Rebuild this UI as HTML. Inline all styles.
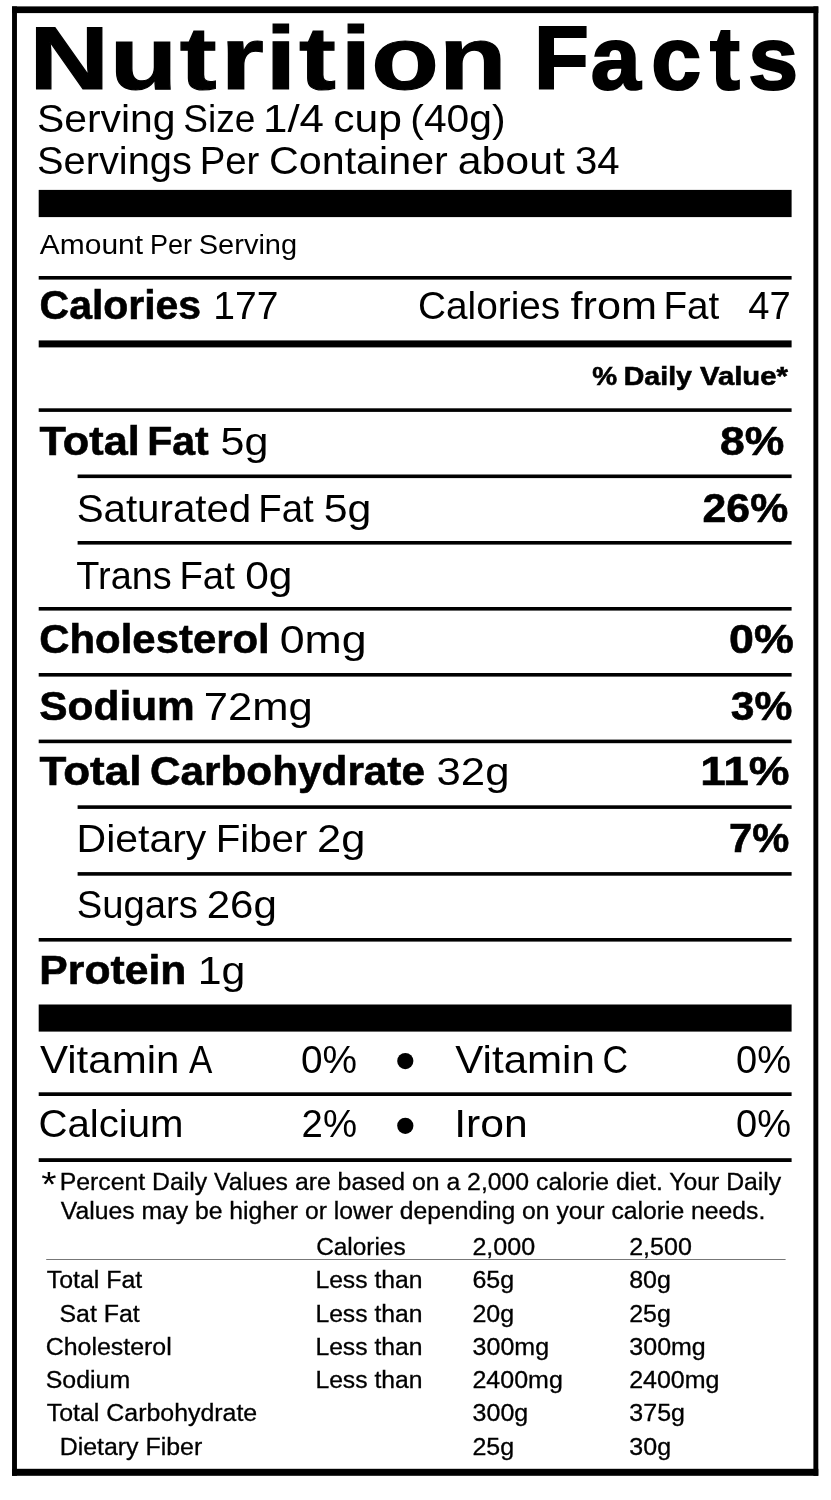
<!DOCTYPE html>
<html lang="en"><head><meta charset="utf-8"><title>Nutrition Facts</title>
<style>
html,body{margin:0;padding:0;background:#fff}
body{width:831px;height:1500px;position:relative;overflow:hidden;font-family:"Liberation Sans",Arial,sans-serif;color:#000}
.page{position:absolute;left:0;top:0;width:831px;height:1500px;background:#fff;will-change:transform}
.g{position:absolute;left:0;top:0}
.ti{font-family:"Liberation Sans",Arial,sans-serif;font-weight:bold;font-size:89px;fill:#000}
section{display:contents}
.t{position:absolute;white-space:pre;line-height:1;transform-origin:0 0;font-weight:normal}
.f{-webkit-text-stroke:0.3px #000}
.b{font-weight:bold;-webkit-text-stroke:0.6px #000}
</style></head><body><div class="page">
<svg class="g" width="831" height="1500" viewBox="0 0 831 1500" aria-hidden="true">
<rect x="12.05" y="6.40" width="806.25" height="6.70"/>
<rect x="12.05" y="1468.80" width="806.25" height="7.00"/>
<rect x="12.05" y="6.40" width="4.90" height="1469.40"/>
<rect x="813.40" y="6.40" width="4.90" height="1469.40"/>
<rect x="38.70" y="189.90" width="752.90" height="27.20"/>
<rect x="38.70" y="276.00" width="752.90" height="3.60"/>
<rect x="38.70" y="340.40" width="752.90" height="7.00"/>
<rect x="38.70" y="408.30" width="752.90" height="3.60"/>
<rect x="77.60" y="474.50" width="714.00" height="3.60"/>
<rect x="77.60" y="541.00" width="714.00" height="3.60"/>
<rect x="38.70" y="607.00" width="752.90" height="3.60"/>
<rect x="38.70" y="673.00" width="752.90" height="3.60"/>
<rect x="38.70" y="739.60" width="752.90" height="3.60"/>
<rect x="77.60" y="805.30" width="714.00" height="3.60"/>
<rect x="77.60" y="872.10" width="714.00" height="3.60"/>
<rect x="38.70" y="938.00" width="752.90" height="3.60"/>
<rect x="38.70" y="1004.50" width="752.90" height="27.10"/>
<rect x="38.70" y="1092.30" width="752.90" height="3.70"/>
<rect x="38.70" y="1158.20" width="752.90" height="3.80"/>
<rect x="46.2" y="1259" width="739.4" height="1" fill="#777"/>
<circle cx="405.3" cy="1061.1" r="8.1"/>
<circle cx="405.3" cy="1125.8" r="8.1"/>
</svg>
<svg class="g" width="831" height="100" viewBox="0 0 831 100" role="heading" aria-level="1">
<text class="ti" stroke="#000" stroke-width="1.13" transform="scale(1.2440,1)" y="89.4" x="23.59 88.28 144.48 177.48 213.47 240.26 273.76 298.54 352.97">Nutrition</text>
<text class="ti" stroke="#000" stroke-width="2.18" transform="scale(1.0073,1)" y="89.4" x="530.19 586.37 646.43 704.84 742.75">Facts</text>
</svg>
<section class="header">
<div class="t" style="left:36px;top:100px;font-size:38.25px;transform:translateX(0.95px) scaleX(1.0681)">Serving</div>
<div class="t" style="left:183px;top:100px;font-size:38.25px;transform:translateX(0.29px) scaleX(0.9699)">Size</div>
<div class="t" style="left:263px;top:100px;font-size:38.25px;transform:translateX(0.02px) scaleX(1.1465)">1/4</div>
<div class="t" style="left:333px;top:100px;font-size:38.25px;transform:translateX(0.23px) scaleX(1.1133)">cup</div>
<div class="t" style="left:410px;top:100px;font-size:38.25px;transform:translateX(0.32px) scaleX(1.0653)">(40g)</div>
<div class="t" style="left:37px;top:142px;font-size:38.25px;transform:translateX(0.01px) scaleX(1.0402)">Servings</div>
<div class="t" style="left:199px;top:142px;font-size:38.25px;transform:translateX(0.66px) scaleX(1.0032)">Per</div>
<div class="t" style="left:269px;top:142px;font-size:38.25px;transform:translateX(0.02px) scaleX(1.0779)">Container</div>
<div class="t" style="left:457px;top:142px;font-size:38.25px;transform:translateX(0.66px) scaleX(1.1215)">about</div>
<div class="t" style="left:575px;top:142px;font-size:38.25px;transform:translateX(0.04px) scaleX(1.0498)">34</div>
</section>
<section class="calories">
<div class="t" style="left:39px;top:231px;font-size:27.5px;transform:translateX(0.80px) scaleX(1.0895)">Amount</div>
<div class="t" style="left:150px;top:231px;font-size:27.5px;transform:translateX(0.02px) scaleX(0.9819)">Per</div>
<div class="t" style="left:198px;top:231px;font-size:27.5px;transform:translateX(0.77px) scaleX(1.0542)">Serving</div>
<div class="t b" style="left:39px;top:285px;font-size:40.75px;transform:translateX(0.60px) scaleX(1.0044)">Calories</div>
<div class="t" style="left:213px;top:287px;font-size:38.75px;transform:translateX(0.32px) scaleX(1.0075)">177</div>
<div class="t" style="left:418px;top:287px;font-size:38.75px;transform:translateX(0.01px) scaleX(1.0006)">Calories</div>
<div class="t" style="left:570px;top:287px;font-size:38.75px;transform:translateX(0.60px) scaleX(1.1158)">from</div>
<div class="t" style="left:663px;top:287px;font-size:38.75px;transform:translateX(0.42px) scaleX(0.9978)">Fat</div>
<div class="t" style="left:748px;top:287px;font-size:38.75px;transform:translateX(0.32px) scaleX(0.9846)">47</div>
<div class="t b" style="left:592px;top:363px;font-size:26.5px;transform:translateX(0.20px) scaleX(1.0550)">%</div>
<div class="t b" style="left:623px;top:363px;font-size:26.5px;transform:translateX(0.71px) scaleX(1.0771)">Daily</div>
<div class="t b" style="left:700px;top:363px;font-size:26.5px;transform:translateX(0.06px) scaleX(1.1042)">Value*</div>
</section>
<section class="nutrients">
<div class="t b" style="left:39px;top:421px;font-size:40.75px;transform:translateX(0.60px) scaleX(1.0613)">Total</div>
<div class="t b" style="left:147px;top:421px;font-size:40.75px;transform:translateX(0.16px) scaleX(1.0056)">Fat</div>
<div class="t" style="left:220px;top:423px;font-size:38.75px;transform:translateX(0.48px) scaleX(1.1116)">5g</div>
<div class="t b" style="left:719px;top:421px;font-size:40.75px;transform:translateX(0.91px) scaleX(1.0919)">8%</div>
<div class="t" style="left:76px;top:490px;font-size:38.75px;transform:translateX(0.68px) scaleX(1.0389)">Saturated</div>
<div class="t" style="left:258px;top:490px;font-size:38.75px;transform:translateX(0.20px) scaleX(0.9908)">Fat</div>
<div class="t" style="left:323px;top:490px;font-size:38.75px;transform:translateX(0.71px) scaleX(1.1059)">5g</div>
<div class="t b" style="left:702px;top:488px;font-size:40.75px;transform:translateX(0.55px) scaleX(1.0500)">26%</div>
<div class="t" style="left:76px;top:557px;font-size:38.75px;transform:translateX(0.34px) scaleX(0.9777)">Trans</div>
<div class="t" style="left:179px;top:557px;font-size:38.75px;transform:translateX(0.43px) scaleX(0.9888)">Fat</div>
<div class="t" style="left:245px;top:557px;font-size:38.75px;transform:translateX(0.13px) scaleX(1.0956)">0g</div>
<div class="t b" style="left:39px;top:619px;font-size:40.75px;transform:translateX(0.27px) scaleX(1.0281)">Cholesterol</div>
<div class="t" style="left:279px;top:621px;font-size:38.75px;transform:translateX(0.73px) scaleX(1.1544)">0mg</div>
<div class="t b" style="left:729px;top:619px;font-size:40.75px;transform:translateX(0.00px) scaleX(1.0989)">0%</div>
<div class="t b" style="left:39px;top:686px;font-size:40.75px;transform:translateX(0.32px) scaleX(1.0403)">Sodium</div>
<div class="t" style="left:203px;top:688px;font-size:38.75px;transform:translateX(0.77px) scaleX(1.1242)">72mg</div>
<div class="t b" style="left:730px;top:686px;font-size:40.75px;transform:translateX(0.68px) scaleX(1.0459)">3%</div>
<div class="t b" style="left:39px;top:751px;font-size:40.75px;transform:translateX(0.60px) scaleX(1.0794)">Total</div>
<div class="t b" style="left:150px;top:751px;font-size:40.75px;transform:translateX(0.00px) scaleX(1.0379)">Carbohydrate</div>
<div class="t" style="left:436px;top:753px;font-size:38.75px;transform:translateX(0.51px) scaleX(1.1287)">32g</div>
<div class="t b" style="left:700px;top:751px;font-size:40.75px;transform:translateX(0.25px) scaleX(1.1250)">11%</div>
<div class="t" style="left:76px;top:820px;font-size:38.75px;transform:translateX(0.53px) scaleX(1.0576)">Dietary</div>
<div class="t" style="left:215px;top:820px;font-size:38.75px;transform:translateX(0.65px) scaleX(1.0393)">Fiber</div>
<div class="t" style="left:317px;top:820px;font-size:38.75px;transform:translateX(0.09px) scaleX(1.1213)">2g</div>
<div class="t b" style="left:728px;top:818px;font-size:40.75px;transform:translateX(0.98px) scaleX(1.0236)">7%</div>
<div class="t" style="left:76px;top:886px;font-size:38.75px;transform:translateX(0.78px) scaleX(0.9870)">Sugars</div>
<div class="t" style="left:206px;top:886px;font-size:38.75px;transform:translateX(0.63px) scaleX(1.0863)">26g</div>
<div class="t b" style="left:39px;top:950px;font-size:40.75px;transform:translateX(0.31px) scaleX(1.0473)">Protein</div>
<div class="t" style="left:197px;top:952px;font-size:38.75px;transform:translateX(0.74px) scaleX(1.1053)">1g</div>
</section>
<section class="vitamins">
<div class="t" style="left:39px;top:1041px;font-size:38.75px;transform:translateX(0.90px) scaleX(1.0861)">Vitamin</div>
<div class="t" style="left:189px;top:1041px;font-size:38.75px;transform:translateX(0.01px) scaleX(0.9036)">A</div>
<div class="t" style="left:300px;top:1041px;font-size:38.75px;transform:translateX(0.97px) scaleX(1.0006)">0%</div>
<div class="t" style="left:455px;top:1041px;font-size:38.75px;transform:translateX(0.30px) scaleX(1.0860)">Vitamin</div>
<div class="t" style="left:602px;top:1041px;font-size:38.75px;transform:translateX(0.58px) scaleX(0.9130)">C</div>
<div class="t" style="left:735px;top:1041px;font-size:38.75px;transform:translateX(0.99px) scaleX(0.9819)">0%</div>
<div class="t" style="left:38px;top:1105px;font-size:38.75px;transform:translateX(0.44px) scaleX(1.0371)">Calcium</div>
<div class="t" style="left:301px;top:1105px;font-size:38.75px;transform:translateX(0.57px) scaleX(0.9897)">2%</div>
<div class="t" style="left:454px;top:1105px;font-size:38.75px;transform:translateX(0.25px) scaleX(1.1007)">Iron</div>
<div class="t" style="left:735px;top:1105px;font-size:38.75px;transform:translateX(0.99px) scaleX(0.9819)">0%</div>
</section>
<section class="footnote">
<div class="t" style="left:41px;top:1166px;font-size:35px;transform:translateX(0.3px) scaleX(1.12)">*</div>
<div class="t f" style="left:59px;top:1171px;font-size:23.5px;transform:translateX(0.80px) scaleX(1.0546)">Percent Daily Values are based on a 2,000 calorie diet. Your Daily</div>
<div class="t f" style="left:60px;top:1200px;font-size:23.5px;transform:translateX(0.82px) scaleX(1.0519)">Values may be higher or lower depending on your calorie needs.</div>
<div class="t f" style="left:316px;top:1236px;font-size:23.5px;transform:translateX(0.16px) scaleX(1.0376)">Calories</div>
<div class="t f" style="left:472px;top:1236px;font-size:23.5px;transform:translateX(0.43px) scaleX(1.0662)">2,000</div>
<div class="t f" style="left:629px;top:1236px;font-size:23.5px;transform:translateX(0.13px) scaleX(1.0662)">2,500</div>
<div class="t f" style="left:46px;top:1269px;font-size:23.5px;transform:translateX(0.80px) scaleX(1.0596)">Total Fat</div>
<div class="t f" style="left:315px;top:1269px;font-size:23.5px;transform:translateX(0.40px) scaleX(1.0511)">Less than</div>
<div class="t f" style="left:472px;top:1269px;font-size:23.5px;transform:translateX(0.44px) scaleX(1.0638)">65g</div>
<div class="t f" style="left:629px;top:1269px;font-size:23.5px;transform:translateX(0.21px) scaleX(1.0638)">80g</div>
<div class="t f" style="left:59px;top:1303px;font-size:23.5px;transform:translateX(0.44px) scaleX(1.0596)">Sat Fat</div>
<div class="t f" style="left:315px;top:1303px;font-size:23.5px;transform:translateX(0.40px) scaleX(1.0511)">Less than</div>
<div class="t f" style="left:472px;top:1303px;font-size:23.5px;transform:translateX(0.44px) scaleX(1.0638)">20g</div>
<div class="t f" style="left:629px;top:1303px;font-size:23.5px;transform:translateX(0.14px) scaleX(1.0638)">25g</div>
<div class="t f" style="left:45px;top:1336px;font-size:23.5px;transform:translateX(0.74px) scaleX(1.0596)">Cholesterol</div>
<div class="t f" style="left:315px;top:1336px;font-size:23.5px;transform:translateX(0.40px) scaleX(1.0511)">Less than</div>
<div class="t f" style="left:472px;top:1336px;font-size:23.5px;transform:translateX(0.62px) scaleX(1.0638)">300mg</div>
<div class="t f" style="left:629px;top:1336px;font-size:23.5px;transform:translateX(0.32px) scaleX(1.0638)">300mg</div>
<div class="t f" style="left:45px;top:1369px;font-size:23.5px;transform:translateX(0.74px) scaleX(1.0596)">Sodium</div>
<div class="t f" style="left:315px;top:1369px;font-size:23.5px;transform:translateX(0.40px) scaleX(1.0511)">Less than</div>
<div class="t f" style="left:472px;top:1369px;font-size:23.5px;transform:translateX(0.44px) scaleX(1.0638)">2400mg</div>
<div class="t f" style="left:629px;top:1369px;font-size:23.5px;transform:translateX(0.14px) scaleX(1.0638)">2400mg</div>
<div class="t f" style="left:46px;top:1402px;font-size:23.5px;transform:translateX(0.80px) scaleX(1.0596)">Total Carbohydrate</div>
<div class="t f" style="left:472px;top:1402px;font-size:23.5px;transform:translateX(0.62px) scaleX(1.0638)">300g</div>
<div class="t f" style="left:629px;top:1402px;font-size:23.5px;transform:translateX(0.32px) scaleX(1.0638)">375g</div>
<div class="t f" style="left:59px;top:1436px;font-size:23.5px;transform:translateX(0.69px) scaleX(1.0596)">Dietary Fiber</div>
<div class="t f" style="left:472px;top:1436px;font-size:23.5px;transform:translateX(0.44px) scaleX(1.0638)">25g</div>
<div class="t f" style="left:629px;top:1436px;font-size:23.5px;transform:translateX(0.32px) scaleX(1.0638)">30g</div>
</section>
</div></body></html>
